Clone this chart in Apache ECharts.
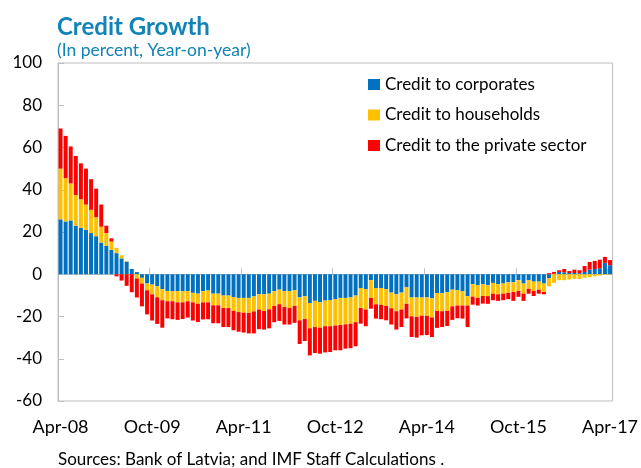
<!DOCTYPE html>
<html>
<head>
<meta charset="utf-8">
<script src="https://cdn.jsdelivr.net/npm/echarts@6/dist/echarts.min.js"></script>
<style>
  html, body { margin: 0; padding: 0; background: #fff; }
  #chart { width: 641px; height: 468px; }
</style>
</head>
<body>
<div id="chart"></div>
<script>
// Monthly year-on-year credit growth, Apr-2008 .. Apr-2017 (percent)
const startYear = 2008, startMonth = 3, monthCount = 109;
const monthNames = ['Jan','Feb','Mar','Apr','May','Jun','Jul','Aug','Sep','Oct','Nov','Dec'];
const categories = [];
for (let i = 0; i < monthCount; i++) {
  const m = (startMonth + i) % 12;
  const y = startYear + Math.floor((startMonth + i) / 12);
  categories.push(monthNames[m] + '-' + String(y).slice(2));
}

const tickLabels = ['Apr-08', 'Oct-09', 'Apr-11', 'Oct-12', 'Apr-14', 'Oct-15', 'Apr-17'];

const corporates = [
  26, 25, 25.5, 23, 22, 21, 19.5, 18, 15, 13.5, 11.5, 10, 7.5, 6, 2.5, 1,
  -1.7, -4.4, -4.9, -5.7, -7.1, -7.9, -8, -8, -8, -8, -8.8, -9.2, -8, -7.7,
  -9.2, -9.2, -10.1, -10.1, -10.9, -11.2, -11.2, -11.2, -10.5, -9.5, -9.5, -9.2,
  -8, -7.3, -8, -8, -7.6, -11, -10.4, -13.6, -12.6, -13.3, -12.5, -12.2, -11.8,
  -11.2, -11.2, -11, -10.1, -6.5, -7.1, -2.8, -6.5, -6.5, -7.1, -8.7, -9.5, -8.7,
  -6.2, -11, -11, -11, -11, -11.4, -8.9, -9, -8.5, -7.3, -7.6, -8, -10.4, -4.7,
  -5.2, -4.7, -5.2, -4.1, -4.7, -4.4, -3.8, -3.8, -2.8, -4.4, -2.8, -3.5, -3.5,
  -4.4, -1.9, 0.2, 1.1, 0.9, 0.6, 0.6, 0.5, 1.1, 2.2, 2.5, 2.8, 5.4, 4.3
];

const households = [
  24, 20.5, 17.5, 14.5, 13.5, 12, 11, 9, 7.5, 6, 4, 2.5, 1.5, 0.3, 0, -2,
  -2.7, -3.2, -4.6, -5.2, -5.2, -4.9, -4.8, -5.3, -5.3, -4.8, -4.5, -4.8, -5.3, -5.6,
  -5.5, -5.5, -5.9, -5.9, -6.5, -6.7, -7, -7.1, -7.1, -7.2, -7.9, -7.4,
  -7, -6.9, -7.5, -8, -7.4, -10.8, -10.8, -12, -12.4, -12, -12.1, -12.4, -12.5,
  -12.8, -12.5, -12.4, -12.6, -9.5, -9.6, -8.4, -7.7, -8, -7.9, -7.4, -8, -8,
  -7.8, -8.9, -9.2, -8.6, -8.7, -9.1, -8.5, -8.5, -8.9, -7.9, -7.2, -6.8, -4.4, -5.9,
  -6, -5.6, -5.2, -5.1, -4.8, -4.8, -5, -4.6, -5.1, -4.8, -4.1, -4.4, -3.8,
  -4, -3.8, -4.1, -2.8, -2.8, -2.5, -2.2, -2.2, -1.7, -1.4, -1, -0.6, -0.3, -0.2
];

const privateSector = [
  19, 20, 17.5, 18.5, 17, 17, 14.5, 13.5, 10.5, 3.5, 1.5, -1, -3, -5.5, -8.5, -9,
  -10.8, -11.4, -12.4, -12.6, -13, -8.1, -8.5, -8.3, -7.9, -7.7, -8.6, -8.6, -8.1, -8,
  -8.5, -8.5, -9, -9, -9.1, -9.3, -9.4, -9.7, -10.4, -9.3, -8.8, -9,
  -7.7, -7.9, -8.3, -7.8, -8, -11.2, -10.4, -12.8, -12.3, -12.3, -12.4, -12.2, -11.7,
  -12, -11.5, -11.6, -11.4, -7.4, -7.9, -5.1, -6.8, -6.8, -6.8, -7.7, -8.7, -8.3,
  -6.9, -9.8, -9.8, -9.3, -9.1, -9.2, -8, -7.5, -7.1, -6.4, -6, -6.2, -10.2, -3.8,
  -3.6, -3.6, -3.6, -3.1, -3.1, -3.1, -3, -4.2, -2.8, -3.4, -2.3, -2.4, -1.9,
  -1.1, 0.5, 0.9, 0.8, 1.6, 0.9, 1.6, 1.4, 2.8, 3.6, 3.8, 4.1, 2.8, 2.4
];

const FONT = 'Lato, "Liberation Sans", sans-serif';
const GRID_GRAY = '#bfbfbf';
const TITLE_BLUE = '#1283b6';

const chart = echarts.init(document.getElementById('chart'), null, { renderer: 'canvas' });

function barSeries(name, data, color) {
  return {
    name: name,
    type: 'bar',
    stack: 'credit',
    data: data,
    barWidth: '78%',
    itemStyle: { color: color },
    emphasis: { disabled: true }
  };
}

chart.setOption({
  animation: false,
  textStyle: { fontFamily: FONT },
  title: [
    {
      text: 'Credit Growth',
      subtext: '(In percent, Year-on-year)',
      left: 57,
      top: 15,
      itemGap: 2,
      padding: 0,
      textStyle: { fontFamily: FONT, fontSize: 24, fontWeight: 'bold', color: TITLE_BLUE },
      subtextStyle: { fontFamily: FONT, fontSize: 17.5, color: TITLE_BLUE }
    },
    {
      text: 'Sources: Bank of Latvia; and IMF Staff Calculations .',
      left: 58,
      top: 451,
      padding: 0,
      textStyle: { fontFamily: FONT, fontSize: 17, fontWeight: 'normal', color: '#000' }
    }
  ],
  legend: {
    orient: 'vertical',
    left: 368,
    top: 76,
    padding: 0,
    itemWidth: 12,
    itemHeight: 11,
    itemGap: 13.5,
    icon: 'rect',
    selectedMode: false,
    textStyle: { fontFamily: FONT, fontSize: 17, color: '#000' },
    data: ['Credit to corporates', 'Credit to households', 'Credit to the private sector']
  },
  grid: {
    left: 58,
    right: 24,
    top: 63,
    bottom: 67,
    show: true,
    borderColor: GRID_GRAY,
    borderWidth: 1,
    backgroundColor: 'transparent'
  },
  xAxis: [
    {
      // zero line with inward ticks on month boundaries
      type: 'category',
      data: categories,
      boundaryGap: true,
      axisLine: { onZero: true, lineStyle: { color: GRID_GRAY, width: 1 } },
      axisTick: { show: true, inside: true, length: 6, interval: 17, alignWithLabel: false, lineStyle: { color: GRID_GRAY } },
      axisLabel: { show: false },
      splitLine: { show: false }
    },
    {
      // date labels along the bottom of the plot
      type: 'category',
      data: categories,
      position: 'bottom',
      boundaryGap: true,
      axisLine: { show: false, onZero: false },
      axisTick: { show: false },
      splitLine: { show: false },
      axisLabel: {
        show: true,
        interval: 17,
        margin: 17,
        fontFamily: FONT,
        fontSize: 18,
        color: '#000',
        formatter: function (value, index) {
          return index % 18 === 0 ? tickLabels[index / 18] : '';
        }
      }
    }
  ],
  yAxis: {
    type: 'value',
    min: -60,
    max: 100,
    interval: 20,
    axisLine: { show: true, lineStyle: { color: GRID_GRAY } },
    axisTick: { show: true, inside: true, length: 6, lineStyle: { color: GRID_GRAY } },
    axisLabel: { fontFamily: FONT, fontSize: 17, color: '#000', margin: 16 },
    splitLine: { show: false }
  },
  series: [
    barSeries('Credit to corporates', corporates, '#0070c0'),
    barSeries('Credit to households', households, '#ffc000'),
    barSeries('Credit to the private sector', privateSector, '#ff0000')
  ]
});
</script>
</body>
</html>
